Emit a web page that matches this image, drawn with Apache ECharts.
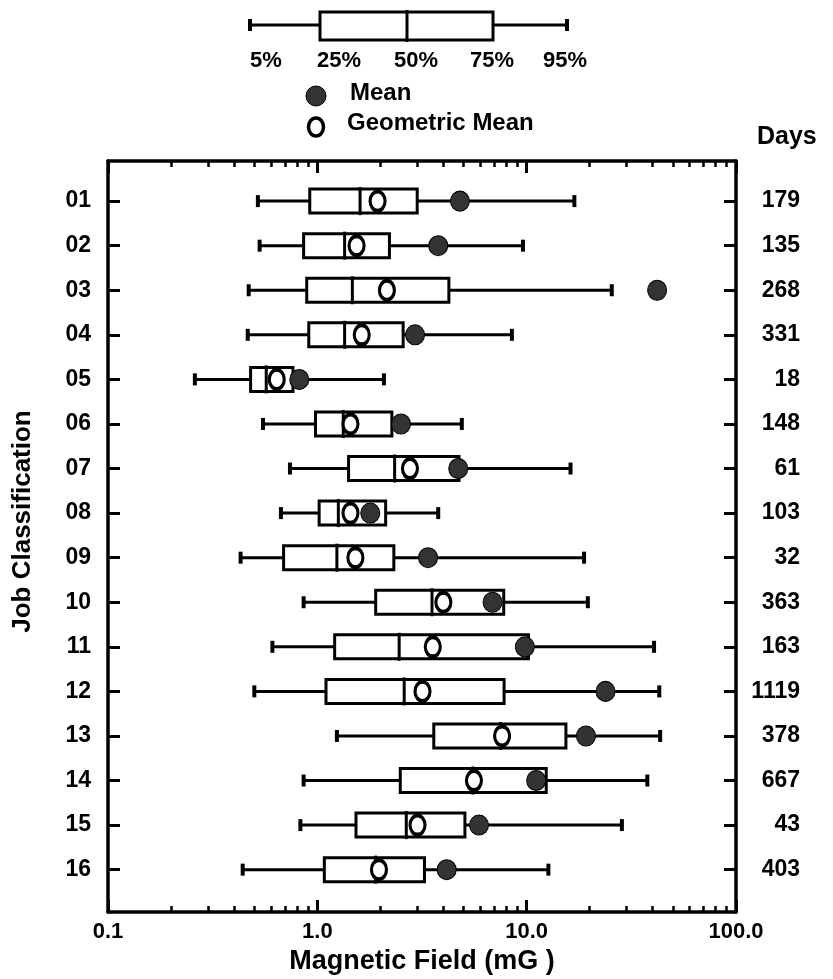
<!DOCTYPE html>
<html>
<head>
<meta charset="utf-8">
<script src="https://cdn.jsdelivr.net/npm/echarts@6/dist/echarts.min.js"></script>
<style>html,body{margin:0;padding:0;background:#fff}#c{width:833px;height:979px}</style>
</head>
<body>
<div id="c"></div>
<script>
// ---- data ----
const categories = ['01','02','03','04','05','06','07','08','09','10','11','12','13','14','15','16'];
const days = [179,135,268,331,18,148,61,103,32,363,163,1119,378,667,43,403];
const p5  = [0.52,0.53,0.47,0.465,0.26,0.55,0.74,0.67,0.43,0.86,0.61,0.50,1.24,0.86,0.83,0.44];
const p25 = [0.92,0.86,0.89,0.91,0.48,0.98,1.41,1.02,0.69,1.90,1.21,1.10,3.60,2.49,1.53,1.08];
const p50 = [1.60,1.35,1.47,1.35,0.57,1.33,2.34,1.26,1.24,3.53,2.46,2.60,7.50,5.53,2.66,1.90];
const p75 = [3.00,2.21,4.25,2.57,0.765,2.27,4.75,2.12,2.32,7.77,10.2,7.80,15.4,12.4,5.07,3.25];
const p95 = [16.9,9.6,25.5,8.5,2.08,4.9,16.2,3.78,18.8,19.6,40.6,43.0,43.4,37.7,28.5,12.7];
const means = [4.8,3.78,42,2.93,0.82,2.51,4.71,1.79,3.38,6.87,9.8,23.8,19.2,11.1,5.92,4.15];
const geoMeans = [1.94,1.54,2.15,1.63,0.64,1.44,2.77,1.44,1.52,4.0,3.56,3.18,7.63,5.6,3.01,1.97];
const xTickValues = [0.1,1,10,100];
const xTickLabels = ['0.1','1.0','10.0','100.0'];
const minorTickValues = [0.2,0.3,0.4,0.5,0.6,0.7,0.8,0.9,2,3,4,5,6,7,8,9,20,30,40,50,60,70,80,90];
const legendLabels = ['5%','25%','50%','75%','95%'];

// ---- build ----
const FONT = '"Liberation Sans", Arial, Helvetica, sans-serif';
const rowValues = categories.map((_, i) => i + 1);
const boxData = categories.map((_, i) => [i + 1, p5[i], p25[i], p50[i], p75[i], p95[i]]);
const meanData = categories.map((_, i) => [means[i], i + 1]);
const geoData = categories.map((_, i) => [geoMeans[i], i + 1]);
const minorLog = minorTickValues.map(v => Math.log10(v));

function xLabel(v) {
  for (let i = 0; i < xTickValues.length; i++) {
    if (Math.abs(Math.log10(v) - Math.log10(xTickValues[i])) < 1e-6) return xTickLabels[i];
  }
  return '';
}

const chart = echarts.init(document.getElementById('c'), null, {renderer: 'canvas'});
const lineCol = '#000';
const axisLine = {show: true, onZero: false, lineStyle: {color: lineCol, width: 3.5}};

const option = {
  backgroundColor: '#fff',
  animation: false,
  grid: {left: 108, right: 97, top: 161, bottom: 67, containLabel: false, outerBoundsMode: 'none'},
  xAxis: [
    {
      type: 'log', logBase: 10, min: 0.1, max: 100, position: 'bottom',
      axisLine: axisLine,
      axisTick: {show: true, inside: true, length: 12, lineStyle: {color: lineCol, width: 3}},
      minorTick: {show: false}, splitLine: {show: false}, minorSplitLine: {show: false},
      axisLabel: {margin: 9, color: '#000', fontFamily: FONT, fontWeight: 'bold', fontSize: 22, formatter: xLabel},
      name: 'Magnetic Field (mG )', nameLocation: 'middle', nameGap: 34,
      nameTextStyle: {color: '#000', fontFamily: FONT, fontWeight: 'bold', fontSize: 27}
    },
    {
      type: 'log', logBase: 10, min: 0.1, max: 100, position: 'top',
      axisLine: axisLine,
      axisTick: {show: true, inside: true, length: 12, lineStyle: {color: lineCol, width: 3}},
      minorTick: {show: false}, splitLine: {show: false},
      axisLabel: {show: false}
    },
    {
      type: 'value', min: -1, max: 2, position: 'bottom',
      axisLine: {show: false, onZero: false}, splitLine: {show: false},
      axisTick: {show: true, inside: true, length: 6, customValues: minorLog, lineStyle: {color: lineCol, width: 2.5}},
      axisLabel: {show: false}
    },
    {
      type: 'value', min: -1, max: 2, position: 'top',
      axisLine: {show: false, onZero: false}, splitLine: {show: false},
      axisTick: {show: true, inside: true, length: 6, customValues: minorLog, lineStyle: {color: lineCol, width: 2.5}},
      axisLabel: {show: false}
    }
  ],
  yAxis: [
    {
      type: 'value', inverse: true, min: 0.1, max: 16.95, position: 'left',
      axisLine: axisLine, splitLine: {show: false},
      axisTick: {show: true, inside: true, length: 12, customValues: rowValues, lineStyle: {color: lineCol, width: 3}},
      axisLabel: {customValues: rowValues, margin: 17, color: '#000', fontFamily: FONT, fontWeight: 'bold', fontSize: 23,
        formatter: v => categories[Math.round(v) - 1] || ''},
      name: 'Job Classification', nameLocation: 'middle', nameGap: 72, nameRotate: 90,
      nameTextStyle: {color: '#000', fontFamily: FONT, fontWeight: 'bold', fontSize: 26, padding: [0, 0, 0, 30]}
    },
    {
      type: 'value', inverse: true, min: 0.1, max: 16.95, position: 'right',
      axisLine: axisLine, splitLine: {show: false},
      axisTick: {show: true, inside: true, length: 12, customValues: rowValues, lineStyle: {color: lineCol, width: 3}},
      axisLabel: {customValues: rowValues, margin: 64, align: 'right', color: '#000', fontFamily: FONT, fontWeight: 'bold', fontSize: 23,
        padding: [0, 0, 8, 0],
        formatter: v => { const d = days[Math.round(v) - 1]; return d === undefined ? '' : String(d); }}
    }
  ],
  series: [
    {
      type: 'custom', xAxisIndex: 0, yAxisIndex: 0, z: 2,
      encode: {x: [1, 2, 3, 4, 5], y: 0},
      data: boxData,
      renderItem: function (params, api) {
        const y = api.value(0);
        const c5 = api.coord([api.value(1), y]);
        const c25 = api.coord([api.value(2), y]);
        const c50 = api.coord([api.value(3), y]);
        const c75 = api.coord([api.value(4), y]);
        const c95 = api.coord([api.value(5), y]);
        const cy = c50[1];
        const bh = 12, cap = 6, med = 14;
        const ls = {stroke: '#000', lineWidth: 3};
        return {
          type: 'group',
          children: [
            {type: 'line', shape: {x1: c5[0], y1: cy, x2: c25[0], y2: cy}, style: ls},
            {type: 'line', shape: {x1: c75[0], y1: cy, x2: c95[0], y2: cy}, style: ls},
            {type: 'line', shape: {x1: c5[0], y1: cy - cap, x2: c5[0], y2: cy + cap}, style: {stroke: '#000', lineWidth: 4}},
            {type: 'line', shape: {x1: c95[0], y1: cy - cap, x2: c95[0], y2: cy + cap}, style: {stroke: '#000', lineWidth: 4}},
            {type: 'rect', shape: {x: c25[0], y: cy - bh, width: c75[0] - c25[0], height: 2 * bh},
              style: {fill: '#fff', stroke: '#000', lineWidth: 3}},
            {type: 'line', shape: {x1: c50[0], y1: cy - med, x2: c50[0], y2: cy + med}, style: ls}
          ]
        };
      }
    },
    {
      type: 'scatter', name: 'Mean', xAxisIndex: 0, yAxisIndex: 0, z: 3,
      symbol: 'circle', symbolSize: [19, 20], data: meanData,
      itemStyle: {color: '#333', borderColor: '#000', borderWidth: 1, opacity: 1}
    },
    {
      type: 'scatter', name: 'Geometric Mean', xAxisIndex: 0, yAxisIndex: 0, z: 4,
      symbol: 'circle', symbolSize: [15, 19], data: geoData,
      itemStyle: {color: '#fff', borderColor: '#000', borderWidth: 3.5, opacity: 1}
    }
  ],
  graphic: [
    {type: 'line', shape: {x1: 250, y1: 25, x2: 320, y2: 25}, style: {stroke: '#000', lineWidth: 3}},
    {type: 'line', shape: {x1: 493, y1: 25, x2: 567, y2: 25}, style: {stroke: '#000', lineWidth: 3}},
    {type: 'line', shape: {x1: 250, y1: 19, x2: 250, y2: 31}, style: {stroke: '#000', lineWidth: 4}},
    {type: 'line', shape: {x1: 567, y1: 19, x2: 567, y2: 31}, style: {stroke: '#000', lineWidth: 4}},
    {type: 'rect', shape: {x: 320, y: 12, width: 173, height: 28}, style: {fill: '#fff', stroke: '#000', lineWidth: 3}},
    {type: 'line', shape: {x1: 407, y1: 10, x2: 407, y2: 42}, style: {stroke: '#000', lineWidth: 3}},
    ...legendLabels.map((t, i) => ({
      type: 'text', x: [266, 339, 416, 492, 565][i], y: 61,
      style: {text: t, fill: '#000', font: 'bold 22px ' + FONT, align: 'center', verticalAlign: 'middle',
        textAlign: 'center', textVerticalAlign: 'middle'}
    })),
    {type: 'circle', shape: {cx: 316, cy: 96, r: 10}, style: {fill: '#333', stroke: '#000', lineWidth: 1}},
    {type: 'text', x: 350, y: 93, style: {text: 'Mean', fill: '#000', font: 'bold 24px ' + FONT,
      align: 'left', verticalAlign: 'middle', textAlign: 'left', textVerticalAlign: 'middle'}},
    {type: 'ellipse', shape: {cx: 316, cy: 127, rx: 7.5, ry: 9}, style: {fill: '#fff', stroke: '#000', lineWidth: 3.5}},
    {type: 'text', x: 347, y: 123, style: {text: 'Geometric Mean', fill: '#000', font: 'bold 24px ' + FONT,
      align: 'left', verticalAlign: 'middle', textAlign: 'left', textVerticalAlign: 'middle'}},
    {type: 'text', x: 757, y: 137, style: {text: 'Days', fill: '#000', font: 'bold 25px ' + FONT,
      align: 'left', verticalAlign: 'middle', textAlign: 'left', textVerticalAlign: 'middle'}}
  ]
};
chart.setOption(option);
</script>
</body>
</html>
